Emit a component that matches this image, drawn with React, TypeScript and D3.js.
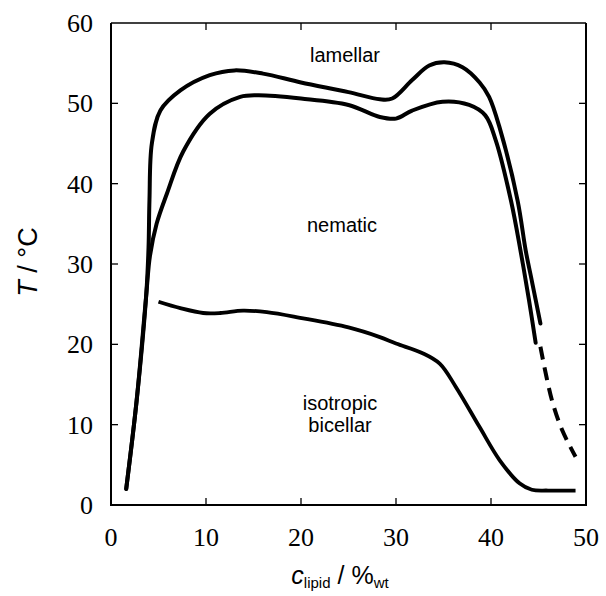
import React from "react";
import * as d3 from "d3";

const W = 606, H = 596;
const M = { left: 111, right: 20, top: 23, bottom: 91 };

const xTicks = [0, 10, 20, 30, 40, 50];
const yTicks = [0, 10, 20, 30, 40, 50, 60];

// upper boundary (nematic -> lamellar), including initial rise
const upperX = [1.6, 2.7, 3.7, 3.95, 4.05, 4.3, 5.2, 7.3, 10.4, 13, 16, 20, 25, 28.3, 29.6, 31.7, 33.5, 35.1, 37, 38.8, 39.8, 40.9, 42.8, 43.65, 44.35, 45.2];
const upperY = [2, 13, 26, 32, 38, 45, 49.1, 51.6, 53.5, 54.1, 53.7, 52.6, 51.4, 50.5, 50.6, 52.9, 54.7, 55.1, 54.5, 52.6, 50.8, 47, 37.9, 31.7, 27.6, 22.6];

// lower boundary (lamellar onset)
const innerX = [1.6, 2.7, 3.7, 4.1, 4.8, 5.9, 7.6, 10.4, 13.6, 15.5, 20, 25, 28.3, 30, 31.7, 34.9, 37.7, 39.4, 40.5, 42.1, 43.1, 44, 44.7];
const innerY = [2, 13, 26, 31, 35, 38.8, 44, 48.7, 50.8, 51, 50.6, 49.8, 48.3, 48.1, 49.1, 50.2, 49.8, 48.5, 45.4, 37.9, 31.7, 25.5, 20.2];

// dashed extension
const dashX = [45.2, 46.4, 47.5, 48.9];
const dashY = [19.7, 13.1, 9.3, 6.0];

// isotropic / nematic boundary
const isoX = [5.0, 7.3, 9.7, 11.5, 13.9, 16.4, 19.9, 25, 28.3, 30, 32.8, 34.6, 36.3, 38.8, 40.9, 43, 44.3, 46, 48.9];
const isoY = [25.3, 24.5, 23.9, 23.9, 24.2, 24, 23.3, 22.1, 20.9, 20.1, 18.9, 17.6, 14.7, 9.7, 5.6, 2.7, 1.9, 1.8, 1.8];

const zip = (xs: number[], ys: number[]) => xs.map((x, i) => [x, ys[i]] as [number, number]);

export default function App() {
  const x = d3.scaleLinear().domain([0, 50]).range([M.left, W - M.right]);
  const y = d3.scaleLinear().domain([0, 60]).range([H - M.bottom, M.top]);
  const line = d3
    .line<[number, number]>()
    .x((d) => x(d[0]))
    .y((d) => y(d[1]))
    .curve(d3.curveCatmullRom.alpha(0.5));

  const x0 = x(0), x1 = x(50), y0 = y(0), y1 = y(60);
  const tl = 7;
  const serif = "'Liberation Serif', 'Times New Roman', serif";
  const sans = "'Liberation Sans', Arial, sans-serif";

  return (
    <svg width={W} height={H} style={{ position: "absolute", left: 0, top: 0, background: "#fff" }}>
      <rect width={W} height={H} fill="#fff" />
      {/* ticks */}
      {xTicks.slice(1, -1).map((t) => (
        <g key={"x" + t}>
          <line x1={x(t)} x2={x(t)} y1={y0} y2={y0 - tl} stroke="#000" strokeWidth={1.3} />
          <line x1={x(t)} x2={x(t)} y1={y1} y2={y1 + tl} stroke="#000" strokeWidth={1.3} />
        </g>
      ))}
      {yTicks.slice(1, -1).map((t) => (
        <g key={"y" + t}>
          <line x1={x0} x2={x0 + tl} y1={y(t)} y2={y(t)} stroke="#000" strokeWidth={1.3} />
          <line x1={x1} x2={x1 - tl} y1={y(t)} y2={y(t)} stroke="#000" strokeWidth={1.3} />
        </g>
      ))}
      {/* frame */}
      <line x1={x0} x2={x1} y1={y1} y2={y1} stroke="#000" strokeWidth={1.3} />
      <line x1={x0} x2={x0} y1={y1} y2={y0} stroke="#000" strokeWidth={2} />
      <line x1={x1} x2={x1} y1={y1} y2={y0} stroke="#000" strokeWidth={2} />
      <line x1={x0 - 1} x2={x1 + 1} y1={y0} y2={y0} stroke="#000" strokeWidth={2} />

      {/* tick labels */}
      {xTicks.map((t) => (
        <text key={"xl" + t} x={x(t)} y={546} fontFamily={serif} fontSize={26} textAnchor="middle">
          {t}
        </text>
      ))}
      {yTicks.map((t) => (
        <text key={"yl" + t} x={93} y={y(t) + 9} fontFamily={serif} fontSize={26} textAnchor="end">
          {t}
        </text>
      ))}

      {/* curves */}
      <path d={line(zip(upperX, upperY)) || ""} fill="none" stroke="#000" strokeWidth={4} strokeLinecap="round" strokeLinejoin="round" />
      <path d={line(zip(innerX, innerY)) || ""} fill="none" stroke="#000" strokeWidth={4} strokeLinecap="round" strokeLinejoin="round" />
      <path d={line(zip(dashX, dashY)) || ""} fill="none" stroke="#000" strokeWidth={4} strokeDasharray="13,8" />
      <path d={line(zip(isoX, isoY)) || ""} fill="none" stroke="#000" strokeWidth={3.8} strokeLinejoin="round" />

      {/* region labels */}
      <text x={345} y={62} fontFamily={sans} fontSize={20} textAnchor="middle">lamellar</text>
      <text x={342} y={232} fontFamily={sans} fontSize={20} textAnchor="middle">nematic</text>
      <text x={340} y={410} fontFamily={sans} fontSize={20} textAnchor="middle">isotropic</text>
      <text x={340} y={432} fontFamily={sans} fontSize={20} textAnchor="middle">bicellar</text>

      {/* axis titles */}
      <text transform="translate(37,262) rotate(-90)" fontFamily={sans} fontSize={27} textAnchor="middle">
        <tspan fontStyle="italic">T</tspan> / °C
      </text>
      <text x={340} y={584} fontFamily={sans} fontSize={25} textAnchor="middle">
        <tspan fontStyle="italic">c</tspan>
        <tspan fontSize={15} dy={4}>lipid</tspan>
        <tspan dy={-4}> / %</tspan>
        <tspan fontSize={15} dy={4}>wt</tspan>
      </text>
    </svg>
  );
}
